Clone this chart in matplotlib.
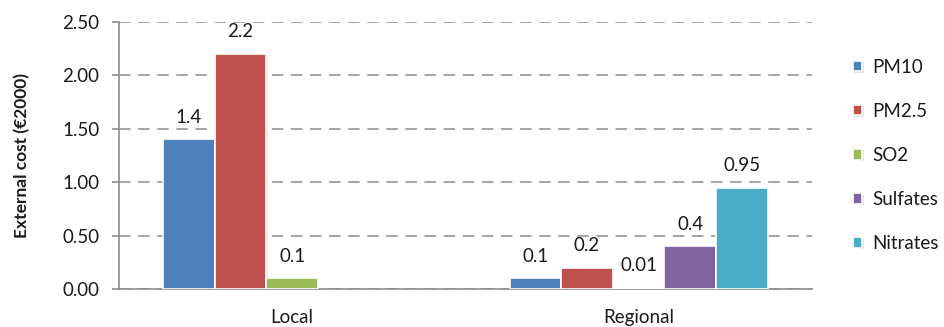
import numpy as np
import matplotlib.pyplot as plt
import matplotlib.patheffects as pe

# External cost per pollutant, by scale
categories = ['Local', 'Regional']
pollutants = ['PM10', 'PM2.5', 'SO2', 'Sulfates', 'Nitrates']
pm10 = [1.4, 0.1]
pm25 = [2.2, 0.2]
so2 = [0.1, 0.01]
sulfates = [np.nan, 0.4]
nitrates = [np.nan, 0.95]
label_text = {
    'PM10': ['1.4', '0.1'],
    'PM2.5': ['2.2', '0.2'],
    'SO2': ['0.1', '0.01'],
    'Sulfates': [None, '0.4'],
    'Nitrates': [None, '0.95'],
}
yticks = [0.0, 0.5, 1.0, 1.5, 2.0, 2.5]

colors = ['#4F81BD', '#C0504D', '#9BBB59', '#8064A2', '#4BACC6']
series = [pm10, pm25, so2, sulfates, nitrates]

plt.rcParams['font.family'] = ['Lato', 'DejaVu Sans']
text_color = '#1a1a1a'
fs = 13.5

fig = plt.figure(figsize=(9.44, 3.27), dpi=100)
ax = fig.add_axes([0.126, 0.116, 0.734, 0.817])

x = np.arange(len(categories))
width = 0.149
shadow = [pe.SimplePatchShadow(offset=(1, -1), shadow_rgbFace='#b0b0b0', alpha=0.35), pe.Normal()]

for i, (name, vals, col) in enumerate(zip(pollutants, series, colors)):
    pos = x + (i - 2) * width
    bars = ax.bar(pos, vals, width, color=col, edgecolor='white', linewidth=1.2,
                  label=name, zorder=3)
    for b in bars:
        b.set_path_effects(shadow)
    for p, v, t in zip(pos, vals, label_text[name]):
        if t is None:
            continue
        ax.annotate(t, (p, v), xytext=(0, 16), textcoords='offset points',
                    ha='center', va='center', fontsize=fs, color=text_color)

ax.set_xlim(-0.5, 1.5)
ax.set_ylim(0, 2.5)
ax.set_yticks(yticks)
ax.set_yticklabels([f'{v:.2f}' for v in yticks])
ax.set_xticks(x)
ax.set_xticklabels(categories)

ax.yaxis.grid(True, color='#8c8c8c', linewidth=1.1, dashes=(7.5, 5), zorder=0)
ax.set_axisbelow(True)

for s in ['top', 'right']:
    ax.spines[s].set_visible(False)
for s in ['left', 'bottom']:
    ax.spines[s].set_color('#8c8c8c')
    ax.spines[s].set_linewidth(1.2)

ax.tick_params(axis='y', length=5, width=1.2, color='#8c8c8c', labelsize=fs,
               labelcolor=text_color, pad=9)
ax.tick_params(axis='x', length=0, labelsize=fs, labelcolor=text_color, pad=14)

ax.set_ylabel('External cost (€2000)', fontsize=12.5, fontweight='bold',
              color=text_color)
ax.yaxis.set_label_coords(-0.128, 0.5)

leg = ax.legend(loc='center left', bbox_to_anchor=(1.0, 0.5), frameon=False,
                fontsize=fs, handlelength=0.5, handleheight=0.5,
                handletextpad=0.5, labelspacing=1.45, borderaxespad=1.8)
for t in leg.get_texts():
    t.set_color(text_color)

fig.savefig('out.png', dpi=100)
